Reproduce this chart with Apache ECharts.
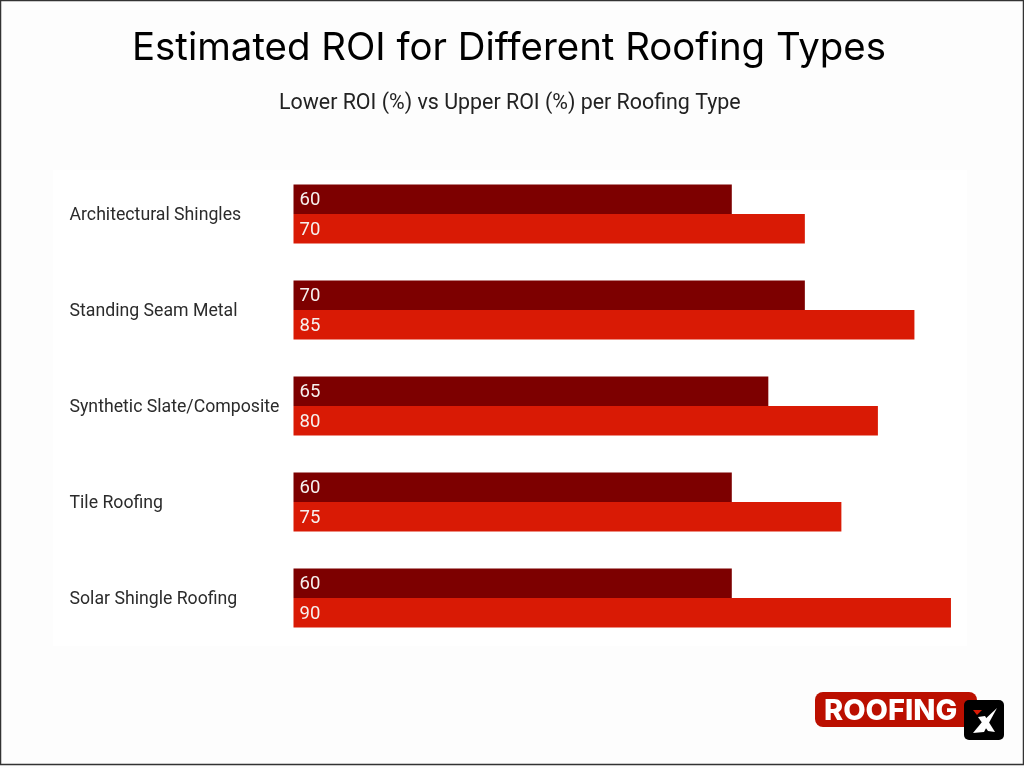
<!DOCTYPE html>
<html><head><meta charset="utf-8">
<style>html,body{margin:0;padding:0;background:#fff}#c{width:1024px;height:768px}</style>
<script src="https://cdn.jsdelivr.net/npm/echarts@6/dist/echarts.min.js"></script></head>
<body><div id="c"></div>
<script>
const categories=["Architectural Shingles","Standing Seam Metal","Synthetic Slate/Composite","Tile Roofing","Solar Shingle Roofing"];
const lowerROI=[60,70,65,60,60];
const upperROI=[70,85,80,75,90];
const chart=echarts.init(document.getElementById('c'),null,{renderer:'canvas'});
const font='Roboto';
const lbl={show:true,position:'insideLeft',color:'#f6f0ee',fontFamily:font,fontSize:18.5,distance:6,offset:[0,1.5],formatter:'{c}'};
chart.setOption({
 animation:false,backgroundColor:'#fdfdfd',
 title:[
  {text:'Estimated ROI for Different Roofing Types',left:127,top:24,textStyle:{fontFamily:'Inter',fontWeight:400,fontSize:38.4,color:'#000'}},
  {text:'Lower ROI (%) vs Upper ROI (%) per Roofing Type',left:274,top:88,textStyle:{fontFamily:font,fontWeight:400,fontSize:21.4,color:'#222'}}
 ],
 grid:{left:293.5,right:0,top:166,height:480,containLabel:false},
 xAxis:{type:'value',min:0,max:100,show:false},
 yAxis:{type:'category',inverse:true,data:categories,axisLine:{show:false},axisTick:{show:false},
  axisLabel:{align:'left',margin:224,fontFamily:font,fontSize:17.7,color:'#2b2b2b',verticalAlign:'top',lineHeight:4}},
 series:[
  {name:'Lower ROI',type:'bar',data:lowerROI,barWidth:29.5,barGap:'0%',itemStyle:{color:'#7d0000'},label:lbl},
  {name:'Upper ROI',type:'bar',data:upperROI,barWidth:29.5,barGap:'0%',itemStyle:{color:'#d91a05'},label:lbl}
 ],
 graphic:[
  {type:'rect',z:-10,shape:{x:53,y:170,width:914,height:476},style:{fill:'#fff'}},
  {type:'rect',shape:{x:0.5,y:0.5,width:1023,height:764},style:{fill:'none',stroke:'#333',lineWidth:1.5},z:-1},
  {type:'rect',shape:{x:815,y:692,width:162,height:35,r:8},style:{fill:'#bb0f00'}},
  {type:'text',style:{x:824,y:711,text:'ROOFING',fill:'#fff',font:'800 29px Inter',textVerticalAlign:'middle'}},
  {type:'rect',z:10,shape:{x:964,y:700,width:40,height:40,r:5},style:{fill:'#000'}},
  {type:'polygon',z:11,shape:{points:[[973,710],[982,710],[977,715]]},style:{fill:'#d91a05'}},
  {type:'polygon',z:11,shape:{points:[[997,708],[984,732],[973,733],[982,722]]},style:{fill:'#fff'}},
  {type:'polygon',z:11,shape:{points:[[978,717],[985,716],[995,732],[988,731]]},style:{fill:'#fff'}}
 ]
});
</script></body></html>
